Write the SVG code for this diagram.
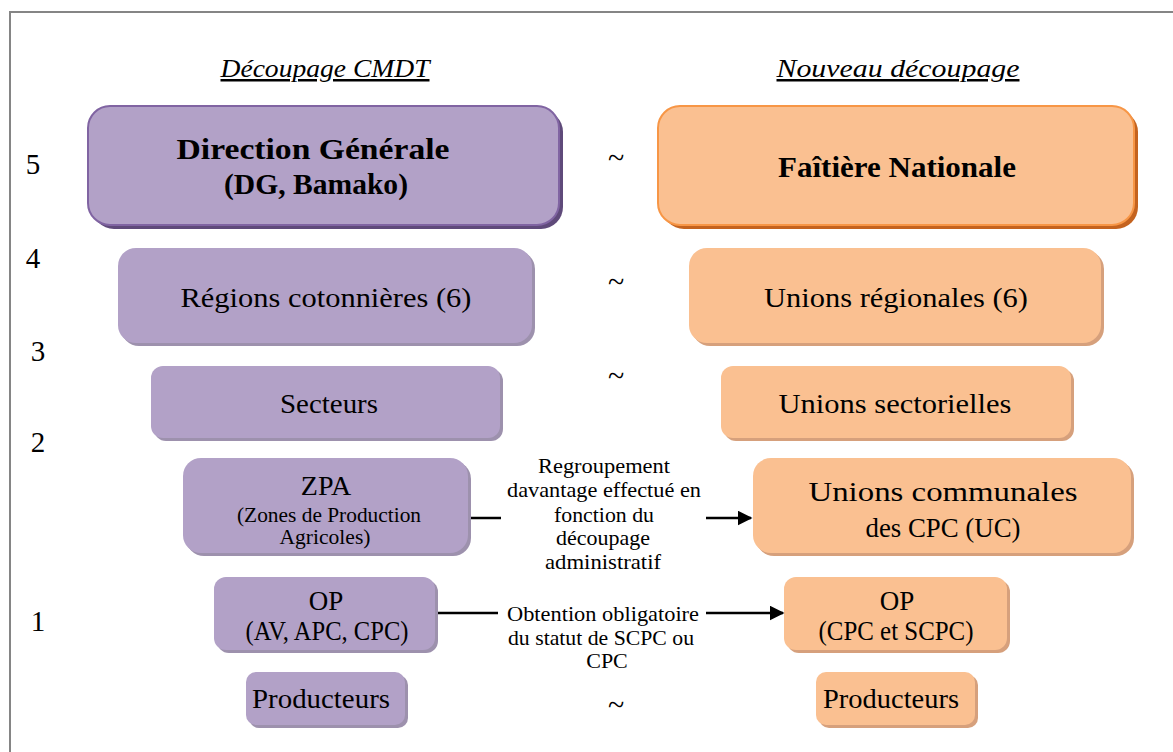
<svg xmlns="http://www.w3.org/2000/svg" width="1173" height="752" viewBox="0 0 1173 752">
<style>
text{font-family:"Liberation Serif","DejaVu Serif",serif;fill:#000;text-anchor:middle}
.hd{font-size:25px;font-style:italic;text-decoration:underline}
.lvl{font-size:29px}
.tl{font-size:30px}
.big{font-size:28px}
.mid{font-size:27px}
.bold{font-size:30px;font-weight:bold}
.sm{font-size:21px}
.lab{font-size:22px}
.pf{fill:#b2a1c7}
.ps{fill:#9d91ad}
.of{fill:#fac091}
.os{fill:#d6a07c}
.conn{stroke:#000;stroke-width:2.5;fill:none}
</style>
<defs>
<marker id="ah" viewBox="0 0 10 10" refX="9" refY="5" markerWidth="6" markerHeight="6" orient="auto" markerUnits="strokeWidth">
<path d="M0,0 L10,5 L0,10 Z" fill="#000"/>
</marker>
</defs>
<rect width="1173" height="752" fill="#fff"/>
<path d="M10,752 V12 H1173" fill="none" stroke="#858585" stroke-width="2"/>

<text class="hd" x="325" y="77" textLength="209" lengthAdjust="spacingAndGlyphs">Découpage CMDT</text>
<text class="hd" x="898" y="77" textLength="243" lengthAdjust="spacingAndGlyphs">Nouveau découpage</text>

<g id="levels">
<text class="lvl" x="33" y="174">5</text>
<text class="lvl" x="33" y="268">4</text>
<text class="lvl" x="38" y="361">3</text>
<text class="lvl" x="38" y="452">2</text>
<text class="lvl" x="38" y="631">1</text>
</g>

<g id="tildes">
<text class="tl" x="616" y="168">~</text>
<text class="tl" x="616" y="292">~</text>
<text class="tl" x="616" y="386">~</text>
<text class="tl" x="616" y="715">~</text>
</g>

<g id="dg">
<rect x="92" y="110" width="471" height="119" rx="22" fill="#5f4a7a"/>
<rect x="88" y="106" width="471" height="119" rx="22" class="pf" stroke="#8064a2" stroke-width="2"/>
<text class="bold" x="313" y="159" textLength="273" lengthAdjust="spacingAndGlyphs">Direction Générale</text>
<text class="bold" x="316" y="194" textLength="184" lengthAdjust="spacingAndGlyphs">(DG, Bamako)</text>
</g>

<g id="faitiere">
<rect x="662" y="110" width="476" height="119" rx="22" fill="#c4631f"/>
<rect x="658" y="106" width="476" height="119" rx="22" class="of" stroke="#f79646" stroke-width="2"/>
<text class="bold" x="897" y="177" textLength="238" lengthAdjust="spacingAndGlyphs">Faîtière Nationale</text>
</g>

<g id="regions">
<rect x="121" y="251" width="414" height="95" rx="18" class="ps"/>
<rect x="118" y="248" width="414" height="95" rx="18" class="pf"/>
<text class="big" x="326" y="307" textLength="291" lengthAdjust="spacingAndGlyphs">Régions cotonnières (6)</text>
</g>

<g id="unions-regionales">
<rect x="692" y="251" width="412" height="95" rx="18" class="os"/>
<rect x="689" y="248" width="412" height="95" rx="18" class="of"/>
<text class="big" x="896" y="307" textLength="264" lengthAdjust="spacingAndGlyphs">Unions régionales (6)</text>
</g>

<g id="secteurs">
<rect x="154" y="369" width="349" height="72" rx="12" class="ps"/>
<rect x="151" y="366" width="349" height="72" rx="12" class="pf"/>
<text class="mid" x="329" y="413" textLength="98" lengthAdjust="spacingAndGlyphs">Secteurs</text>
</g>

<g id="unions-sectorielles">
<rect x="724" y="369" width="350" height="72" rx="12" class="os"/>
<rect x="721" y="366" width="350" height="72" rx="12" class="of"/>
<text class="mid" x="895" y="413" textLength="233" lengthAdjust="spacingAndGlyphs">Unions sectorielles</text>
</g>

<g id="zpa">
<rect x="186" y="461" width="285" height="95" rx="18" class="ps"/>
<rect x="183" y="458" width="285" height="95" rx="18" class="pf"/>
<text class="big" x="326" y="495">ZPA</text>
<text class="sm" x="329" y="522" textLength="184" lengthAdjust="spacingAndGlyphs">(Zones de Production</text>
<text class="sm" x="325" y="544" textLength="91" lengthAdjust="spacingAndGlyphs">Agricoles)</text>
</g>

<g id="unions-communales">
<rect x="756" y="461" width="378" height="95" rx="18" class="os"/>
<rect x="753" y="458" width="378" height="95" rx="18" class="of"/>
<text class="big" x="943" y="501" textLength="269" lengthAdjust="spacingAndGlyphs">Unions communales</text>
<text class="big" x="943" y="537" textLength="155" lengthAdjust="spacingAndGlyphs">des CPC (UC)</text>
</g>

<g id="op-cmdt">
<rect x="217" y="580" width="221" height="73" rx="12" class="ps"/>
<rect x="214" y="577" width="221" height="73" rx="12" class="pf"/>
<text class="mid" x="326" y="610">OP</text>
<text class="mid" x="327" y="640" textLength="163" lengthAdjust="spacingAndGlyphs">(AV, APC, CPC)</text>
</g>

<g id="op-new">
<rect x="787" y="580" width="223" height="73" rx="12" class="os"/>
<rect x="784" y="577" width="223" height="73" rx="12" class="of"/>
<text class="mid" x="897" y="610">OP</text>
<text class="mid" x="896" y="640" textLength="155" lengthAdjust="spacingAndGlyphs">(CPC et SCPC)</text>
</g>

<g id="producteurs-cmdt">
<rect x="249" y="675" width="159" height="53" rx="10" class="ps"/>
<rect x="246" y="672" width="159" height="53" rx="10" class="pf"/>
<text class="big" x="321" y="708" textLength="138" lengthAdjust="spacingAndGlyphs">Producteurs</text>
</g>

<g id="producteurs-new">
<rect x="819" y="675" width="159" height="53" rx="10" class="os"/>
<rect x="816" y="672" width="159" height="53" rx="10" class="of"/>
<text class="big" x="891" y="708" textLength="136" lengthAdjust="spacingAndGlyphs">Producteurs</text>
</g>

<g id="connectors">
<path class="conn" d="M471,518 H501"/>
<path class="conn" d="M706,518 H751" marker-end="url(#ah)"/>
<path class="conn" d="M438,613 H498"/>
<path class="conn" d="M706,613 H783" marker-end="url(#ah)"/>
<g id="label-regroupement">
<text class="lab" x="604" y="473" textLength="132" lengthAdjust="spacingAndGlyphs">Regroupement</text>
<text class="lab" x="604" y="497" textLength="194" lengthAdjust="spacingAndGlyphs">davantage effectué en</text>
<text class="lab" x="604" y="522" textLength="100" lengthAdjust="spacingAndGlyphs">fonction du</text>
<text class="lab" x="603" y="545" textLength="94" lengthAdjust="spacingAndGlyphs">découpage</text>
<text class="lab" x="603" y="569" textLength="116" lengthAdjust="spacingAndGlyphs">administratif</text>
</g>
<g id="label-obtention">
<text class="lab" x="603" y="621" textLength="192" lengthAdjust="spacingAndGlyphs">Obtention obligatoire</text>
<text class="lab" x="601" y="645" textLength="186" lengthAdjust="spacingAndGlyphs">du statut de SCPC ou</text>
<text class="lab" x="607" y="668">CPC</text>
</g>
</g>
</svg>
